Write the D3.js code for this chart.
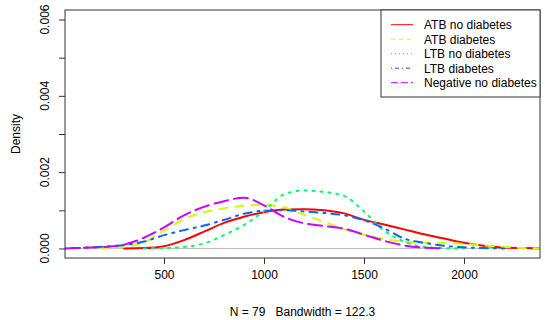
<!DOCTYPE html>
<html>
<head>
<meta charset="utf-8">
<script src="https://cdn.jsdelivr.net/npm/d3@7"></script>
<style>
  body { margin: 0; background: #fff; }
  svg { display: block; font-family: "Liberation Sans", Arial, sans-serif; }
</style>
</head>
<body>
<div id="chart"></div>
<script>
// density grid (x values) and the five estimated curves
let gridX = [0, 100, 200, 300, 400, 500, 600, 700, 800, 900, 1000, 1100, 1200,
  1300, 1400, 1500, 1600, 1700, 1800, 1900, 2000, 2100, 2200, 2300, 2400];

let atbNoDiabetes = [null, null, null, 0.0, 0.00001, 0.00006, 0.00022, 0.00044, 0.00067, 0.00083, 0.00095, 0.00102, 0.00103,
  0.00100, 0.00092, 0.00075, 0.00063, 0.00050, 0.00037, 0.00026, 0.00015, 0.00007, 0.00002, 0.00001, 0.0];
let atbDiabetes = [null, 0.0, 0.00001, 0.00004, 0.00016, 0.00047, 0.00077, 0.00095, 0.00105, 0.00112, 0.00114, 0.00108, 0.00088,
  0.00070, 0.00050, 0.00036, 0.00025, 0.00018, 0.00015, 0.00015, 0.00012, 0.00008, 0.00004, 0.00001, 0.0];
let ltbNoDiabetes = [null, null, null, null, 0.0, 0.00001, 0.00004, 0.00013, 0.00035, 0.00062, 0.00098, 0.00142, 0.00152,
  0.00148, 0.00138, 0.00097, 0.00047, 0.00018, 0.00004, 0.00001, 0.0, null, null, null, null];
let ltbDiabetes = [0.0, 0.00002, 0.00005, 0.00009, 0.00018, 0.00035, 0.00048, 0.00060, 0.00075, 0.00091, 0.00099, 0.00100, 0.00097,
  0.00093, 0.00087, 0.00074, 0.00053, 0.00026, 0.00015, 0.00007, 0.00003, 0.00001, 0.0, null, null];
let negNoDiabetes = [0.0, 0.00002, 0.00004, 0.00010, 0.00028, 0.00055, 0.00087, 0.00109, 0.00124, 0.00133, 0.00113, 0.00083, 0.00066,
  0.00059, 0.00052, 0.00036, 0.00020, 0.00008, 0.00002, 0.0, null, null, null, null, null];

let seriesNames = ['ATB no diabetes', 'ATB diabetes', 'LTB no diabetes', 'LTB diabetes', 'Negative no diabetes'];
let seriesValues = [atbNoDiabetes, atbDiabetes, ltbNoDiabetes, ltbDiabetes, negNoDiabetes];
let seriesColors = ['#FF0000', '#CCFF00', '#00FF66', '#0066FF', '#CC00FF'];
// R lty 1..5, scaled for lwd = 2 on the curves
let curveDash = ['none', '8 8', '2 6', '2 6 8 6', '14 6'];
let legendDash = ['none', '4 4', '1 3', '1 3 4 3', '7 3'];

let xTicks = [500, 1000, 1500, 2000];
let yTicks = [0, 0.001, 0.002, 0.003, 0.004, 0.005, 0.006];
let yTickLabels = [0, 0.002, 0.004, 0.006];

let width = 545, height = 320;
let plot = { left: 65, right: 540, top: 10, bottom: 258 };

let svg = d3.select('#chart')
  .append('svg')
  .attr('width', width)
  .attr('height', height);

let x = d3.scaleLinear()
  .domain([5, 2380])
  .range([plot.left, plot.right]);

let y = d3.scaleLinear()
  .domain([-0.00025, 0.00625])
  .range([plot.bottom, plot.top]);

svg.append('clipPath')
  .attr('id', 'plot-clip')
  .append('rect')
  .attr('x', plot.left)
  .attr('y', plot.top)
  .attr('width', plot.right - plot.left)
  .attr('height', plot.bottom - plot.top);

// gray zero line
svg.append('line')
  .attr('x1', plot.left)
  .attr('x2', plot.right)
  .attr('y1', y(0))
  .attr('y2', y(0))
  .attr('stroke', '#BEBEBE')
  .attr('stroke-width', 1);

let line = d3.line()
  .defined(d => d[1] !== null)
  .x(d => x(d[0]))
  .y(d => y(d[1]))
  .curve(d3.curveMonotoneX);

let curves = svg.append('g').attr('clip-path', 'url(#plot-clip)');

seriesValues.forEach(function(vals, i){
  let pts = gridX.map((g, j) => [g, vals[j]]);
  curves.append('path')
    .attr('d', line(pts))
    .attr('fill', 'none')
    .attr('stroke', seriesColors[i])
    .attr('stroke-width', 2)
    .attr('stroke-linecap', 'round')
    .attr('stroke-linejoin', 'round')
    .attr('stroke-dasharray', curveDash[i]);
});

// plot frame
svg.append('rect')
  .attr('x', plot.left)
  .attr('y', plot.top)
  .attr('width', plot.right - plot.left)
  .attr('height', plot.bottom - plot.top)
  .attr('fill', 'none')
  .attr('stroke', '#333')
  .attr('stroke-width', 1);

// x axis
let xAxis = svg.append('g')
  .attr('class', 'x axis')
  .attr('transform', 'translate(0, ' + plot.bottom + ')')
  .call(d3.axisBottom(x).tickValues(xTicks).tickSize(6).tickPadding(6).tickFormat(d3.format('d')));
xAxis.select('.domain').remove();
xAxis.selectAll('line').attr('stroke', '#333');
xAxis.selectAll('text')
  .attr('font-size', '12px')
  .attr('font-family', '"Liberation Sans", Arial, sans-serif')
  .attr('fill', '#000');

// y axis (rotated labels as in R)
let yAxis = svg.append('g')
  .attr('class', 'y axis')
  .attr('transform', 'translate(' + plot.left + ', 0)')
  .call(d3.axisLeft(y).tickValues(yTicks).tickSize(6).tickFormat(''));
yAxis.select('.domain').remove();
yAxis.selectAll('line').attr('stroke', '#333');

svg.selectAll('.ylab')
  .data(yTickLabels)
  .enter()
  .append('text')
  .attr('class', 'ylab')
  .attr('transform', d => 'translate(48.5, ' + y(d) + ') rotate(-90)')
  .attr('text-anchor', 'middle')
  .attr('font-size', '12px')
  .text(d => d3.format('.3f')(d));

svg.append('text')
  .attr('transform', 'translate(20, ' + ((plot.top + plot.bottom) / 2) + ') rotate(-90)')
  .attr('text-anchor', 'middle')
  .attr('font-size', '12px')
  .text('Density');

svg.append('text')
  .attr('x', (plot.left + plot.right) / 2)
  .attr('y', 316)
  .attr('text-anchor', 'middle')
  .attr('font-size', '12px')
  .style('white-space', 'pre')
  .text('N = 79   Bandwidth = 122.3');

// Legend
let legend = svg.append('g').attr('class', 'legend');
legend.append('rect')
  .attr('x', 381)
  .attr('y', plot.top)
  .attr('width', plot.right - 381)
  .attr('height', 87)
  .attr('fill', '#fff')
  .attr('stroke', '#333')
  .attr('stroke-width', 1);

seriesNames.forEach(function(name, i){
  let cy = 24.7 + i * 14.5;
  legend.append('line')
    .attr('x1', 391)
    .attr('x2', 413)
    .attr('y1', cy)
    .attr('y2', cy)
    .attr('stroke', seriesColors[i])
    .attr('stroke-width', 1)
    .attr('stroke-dasharray', legendDash[i]);
  legend.append('text')
    .attr('x', 424)
    .attr('y', cy + 4.3)
    .attr('font-size', '12px')
    .text(name);
});
</script>
</body>
</html>
